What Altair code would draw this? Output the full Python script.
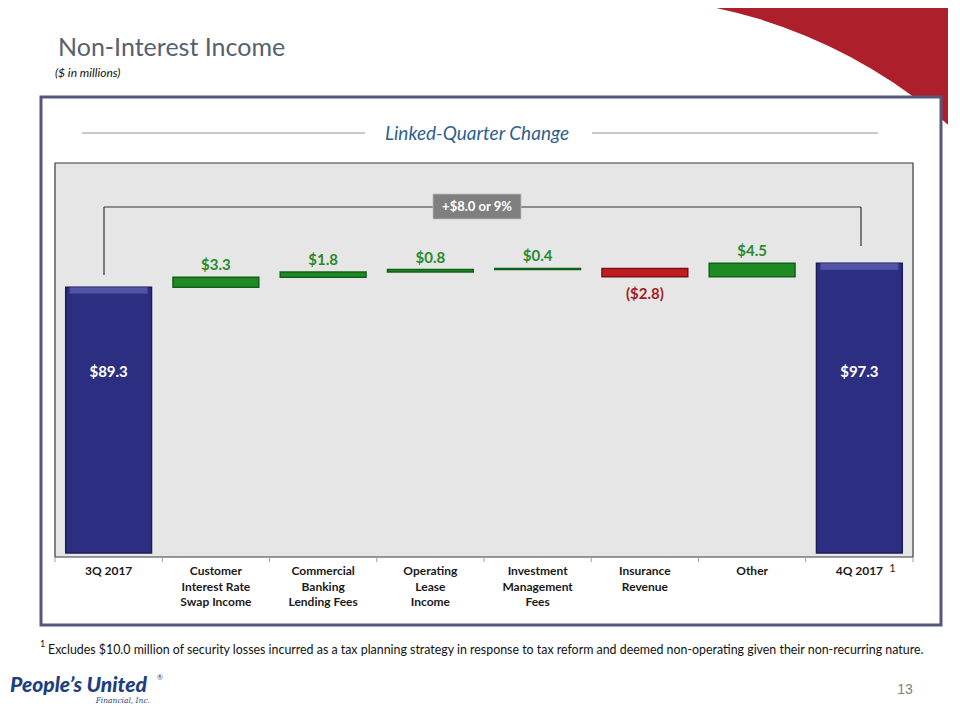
import altair as alt
import pandas as pd

# ---------------- data ----------------
categories = ["3Q 2017", "Customer Interest Rate Swap Income", "Commercial Banking Lending Fees",
              "Operating Lease Income", "Investment Management Fees", "Insurance Revenue",
              "Other", "4Q 2017"]
axis_labels = ["3Q 2017", "Customer\nInterest Rate\nSwap Income", "Commercial\nBanking\nLending Fees",
               "Operating\nLease\nIncome", "Investment\nManagement\nFees", "Insurance\nRevenue",
               "Other", "4Q 2017"]
values = [89.3, 3.3, 1.8, 0.8, 0.4, -2.8, 4.5, 97.3]
kinds = ["total", "up", "up", "up", "up", "down", "up", "total"]
value_labels = ["$89.3", "$3.3", "$1.8", "$0.8", "$0.4", "($2.8)", "$4.5", "$97.3"]
change_label = "+$8.0 or 9%"
title_text = "Non-Interest Income"
subtitle_text = "($ in millions)"
section_text = "Linked-Quarter Change"
footnote_text = "Excludes $10.0 million of security losses incurred as a tax planning strategy in response to tax reform and deemed non-operating given their non-recurring nature."

# ---------------- table ----------------
starts, ends = [], []
running = 0.0
for v, k in zip(values, kinds):
    if k == "total":
        starts.append(0.0)
        ends.append(v)
        running = v
    else:
        starts.append(running)
        running = round(running + v, 2)
        ends.append(running)

df = pd.DataFrame({"cat": categories, "label": axis_labels, "value": values, "kind": kinds,
                   "vlabel": value_labels, "start": starts, "end": ends})
df["top"] = df[["start", "end"]].max(axis=1)
df["bottom"] = df[["start", "end"]].min(axis=1)

FONT = "Lato"
one = pd.DataFrame({"a": [0]})

xs = alt.X("cat:N", sort=categories, axis=None,
           scale=alt.Scale(range=[47, 905], paddingInner=0.2, paddingOuter=0.1))
yscale = alt.Scale(domain=[0, 131], range=[545, 155])


def deco_rect(x, x2, y, y2, **kw):
    return alt.Chart(one).mark_rect(**kw).encode(
        x=alt.value(x), x2=alt.value(x2), y=alt.value(y), y2=alt.value(y2))


def deco_rule(x, x2, y, y2, **kw):
    return alt.Chart(one).mark_rule(**kw).encode(
        x=alt.value(x), x2=alt.value(x2), y=alt.value(y), y2=alt.value(y2))


def deco_text(txt, x, y, **kw):
    return alt.Chart(one).mark_text(text=txt, **kw).encode(x=alt.value(x), y=alt.value(y))


# ---------------- slide decoration ----------------
red_corner = deco_rect(580, 940, 0, 140, fill="#ad1f2b")
white_circle = alt.Chart(one).mark_point(shape="circle", filled=True, size=(2 * 508) ** 2,
                                         fill="white", opacity=1, strokeWidth=0).encode(
    x=alt.value(603), y=alt.value(497))

title = deco_text(title_text, 50, 40, font=FONT, fontSize=25, fontWeight="normal",
                  color="#56616d", align="left", baseline="middle")
subtitle = deco_text(subtitle_text, 47, 65, font=FONT, fontSize=12, fontStyle="italic",
                     color="#111111", align="left", baseline="middle")

panel = deco_rect(33, 933, 89, 617, fill="white", stroke="#55577a", strokeWidth=3)
section = deco_text(section_text, 469, 126, font=FONT, fontSize=19, fontStyle="italic",
                    color="#2f5f8f", align="center", baseline="middle")
sec_line1 = deco_rule(74, 357, 125, 125, color="#c8c8c8", strokeWidth=2)
sec_line2 = deco_rule(584, 870, 125, 125, color="#c8c8c8", strokeWidth=2)

plot_bg = deco_rect(47, 905, 155, 549, fill="#e6e6e6", stroke="#3a3a3a", strokeWidth=1.2)

bracket_l = deco_rule(96, 96, 199, 267, color="#333333", strokeWidth=1.2)
bracket_h = deco_rule(96, 853, 199, 199, color="#333333", strokeWidth=1.2)
bracket_r = deco_rule(853, 853, 199, 238, color="#333333", strokeWidth=1.2)
change_box = deco_rect(425, 513, 186, 211, fill="#7f7f7f", stroke="#bdbdbd", strokeWidth=0.8)
change_txt = deco_text(change_label, 469, 199, font=FONT, fontSize=13, fontWeight="bold",
                       color="white", align="center", baseline="middle")

# ---------------- waterfall ----------------
base = alt.Chart(df)
color_scale = alt.Scale(domain=["total", "up", "down"], range=["#2c2e82", "#1f8a22", "#c01b20"])
stroke_scale = alt.Scale(domain=["total", "up", "down"], range=["#1c1d58", "#11601a", "#7d1014"])

bars = base.mark_bar(strokeWidth=1.5).encode(
    x=xs,
    y=alt.Y("start:Q", scale=yscale, axis=None),
    y2="end:Q",
    fill=alt.Fill("kind:N", scale=color_scale, legend=None),
    stroke=alt.Stroke("kind:N", scale=stroke_scale, legend=None),
)

totals = df[df["kind"] == "total"].copy()
totals["hl0"] = totals["end"] - 2.2
bevel = alt.Chart(totals).mark_bar(width=78, fill="#5254a6", stroke="#3a3c90", strokeWidth=0.5).encode(
    x=xs, y=alt.Y("hl0:Q", scale=yscale, axis=None), y2="end:Q")

ups = df[df["kind"] == "up"]
downs = df[df["kind"] == "down"]

up_labels = alt.Chart(ups).mark_text(font=FONT, fontSize=15, fontWeight="bold", color="#2a8a2a",
                                     baseline="middle", dy=-12).encode(
    x=xs, y=alt.Y("top:Q", scale=yscale, axis=None), text="vlabel:N")
down_labels = alt.Chart(downs).mark_text(font=FONT, fontSize=15, fontWeight="bold", color="#a31c1f",
                                         baseline="middle", dy=17).encode(
    x=xs, y=alt.Y("bottom:Q", scale=yscale, axis=None), text="vlabel:N")
total_labels = alt.Chart(totals).mark_text(font=FONT, fontSize=15, fontWeight="bold",
                                           color="white", baseline="middle").encode(
    x=xs, y=alt.value(364), text="vlabel:N")

cat_labels = base.mark_text(font=FONT, fontSize=12, fontWeight="bold", color="#1a1a1a",
                            lineBreak="\n", lineHeight=15.5, baseline="top").encode(
    x=xs, y=alt.value(558), text="label:N")
sup1 = alt.Chart(totals[totals["cat"] == "4Q 2017"]).mark_text(
    font=FONT, fontSize=11, color="#1a1a1a", baseline="top", dx=33).encode(
    x=xs, y=alt.value(555), text=alt.value("1"))

ticks_l = base.mark_rule(xOffset=-53.6, color="#a0a0a0", strokeWidth=1).encode(
    x=xs, y=alt.value(549), y2=alt.value(554))
ticks_r = alt.Chart(df[df["cat"] == "4Q 2017"]).mark_rule(xOffset=53.6, color="#a0a0a0",
                                                          strokeWidth=1).encode(
    x=xs, y=alt.value(549), y2=alt.value(554))

# ---------------- footer ----------------
foot_sup = deco_text("1", 32, 636, font=FONT, fontSize=9, color="#111111", align="left",
                     baseline="middle")
foot = deco_text(footnote_text, 40, 642, font=FONT, fontSize=12.4, color="#111111", align="left",
                 baseline="middle")
logo = deco_text("People\u2019s United", 2, 678, font=FONT, fontSize=21, fontWeight=900,
                 fontStyle="italic", color="#1d3f7f", align="left", baseline="middle")
logo_r = deco_text("\u00ae", 149, 670, font=FONT, fontSize=7, color="#1d3f7f", align="left",
                   baseline="middle")
logo_sub = deco_text("Financial, Inc.", 142, 695, font="DejaVu Serif", fontSize=7.5,
                     fontStyle="italic", color="#1d3f7f", align="right", baseline="alphabetic")
page_no = deco_text("13", 897, 682, font="Liberation Sans", fontSize=14, color="#7f7f7f",
                    align="center", baseline="middle")

chart = alt.layer(
    red_corner, white_circle, title, subtitle, panel, section, sec_line1, sec_line2,
    plot_bg, bracket_l, bracket_h, bracket_r, change_box, change_txt,
    bars, bevel, up_labels, down_labels, total_labels, cat_labels, sup1, ticks_l, ticks_r,
    foot_sup, foot, logo, logo_r, logo_sub, page_no,
).properties(
    width=940, height=696, padding=0, autosize=alt.AutoSizeParams(type="none"),
).configure_view(strokeWidth=0)

chart.save("out.html", embed_options={"renderer": "svg", "actions": False})
